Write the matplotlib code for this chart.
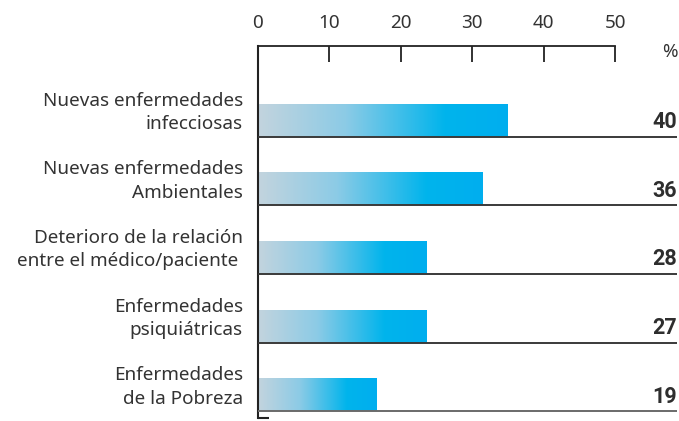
import numpy as np
import matplotlib
matplotlib.use("Agg")
import matplotlib.pyplot as plt
from matplotlib.colors import LinearSegmentedColormap

categories = [
    "Nuevas enfermedades\ninfecciosas",
    "Nuevas enfermedades\nAmbientales",
    "Deterioro de la relación\nentre el médico/paciente ",
    "Enfermedades\npsiquiátricas",
    "Enfermedades\nde la Pobreza",
]
bar_lengths = [34.9, 31.4, 23.6, 23.5, 16.5]   # bar extents as drawn against the axis
value_labels = ["40", "36", "28", "27", "19"]  # printed values
xticks = [0, 10, 20, 30, 40, 50]

FONT = ["Noto Sans", "DejaVu Sans"]
plt.rcParams["font.family"] = FONT

W, H = 679, 421
fig = plt.figure(figsize=(W / 100, H / 100), dpi=100)
left_px, right_px, top_px, bot_px = 257.5, 677, 46, 418
ax = fig.add_axes([left_px / W, 1 - bot_px / H, (right_px - left_px) / W, (bot_px - top_px) / H])

xmax = 58.6
ax.set_xlim(0, xmax)
ax.set_ylim(4.34, -1.08)

cmap = LinearSegmentedColormap.from_list(
    "g", [(0.0, "#c3d4de"), (0.35, "#8ccbe6"), (0.75, "#00b4ec"), (1.0, "#00aeef")])
grad = np.linspace(0, 1, 256).reshape(1, -1)
bh = 0.48
n = len(categories)
ypos = np.arange(n)
for i, (y, v) in enumerate(zip(ypos, bar_lengths)):
    ax.imshow(grad, cmap=cmap, aspect="auto", extent=[0, v, y + bh / 2, y - bh / 2],
              interpolation="bilinear", zorder=2)
    ax.plot([0, xmax], [y + bh / 2, y + bh / 2], color="#3a3a3a" if i < n - 1 else "#6a6a6a",
            lw=1.4, solid_capstyle="butt", zorder=3, clip_on=False)
    ax.annotate(value_labels[i], xy=(xmax, y + bh / 2), xytext=(0, 2.5), textcoords="offset points",
                ha="right", va="bottom", fontsize=15.5, fontweight="bold", color="#2e2e2e",
                family=["Roboto", "DejaVu Sans"])
    ax.annotate(categories[i], xy=(0, y), xycoords=("axes fraction", "data"),
                xytext=(-10.5, 5.5), textcoords="offset points", ha="right", va="center",
                fontsize=13.6, color="#333333", linespacing=1.38)

ax.set_yticks([])
for s in ["right", "bottom"]:
    ax.spines[s].set_visible(False)
ax.spines["top"].set_bounds(0, 50)
ax.spines["top"].set_color("#222222")
ax.spines["top"].set_linewidth(1.3)
ax.spines["left"].set_color("#222222")
ax.spines["left"].set_linewidth(1.5)

ax.xaxis.set_ticks_position("top")
ax.set_xticks(xticks)
ax.set_xticklabels([str(t) for t in xticks])
ax.tick_params(axis="x", direction="in", length=11.5, width=1.3, color="#222222",
               labelsize=13.6, labelcolor="#333333", pad=10)

# small foot at the bottom of the left axis
ax.plot([0, 1.6], [4.34, 4.34], color="#222222", lw=1.5, clip_on=False, zorder=3,
        solid_capstyle="butt")

fig.text(670 / W, 1 - 52 / H, "%", ha="center", va="center", fontsize=13.5, color="#333333")

fig.savefig("out.png", dpi=100)
